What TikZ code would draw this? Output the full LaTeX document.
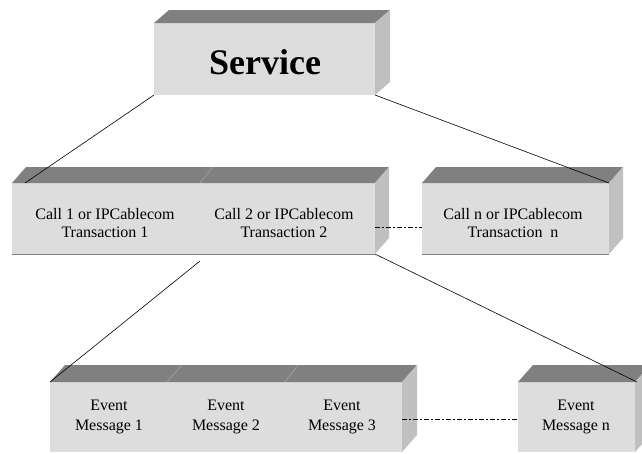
\documentclass[tikz,border=0pt]{standalone}
\usepackage{fontspec}
\setmainfont{Liberation Serif}
\usetikzlibrary{calc}
\definecolor{frontc}{HTML}{DDDDDD}
\definecolor{topc}{HTML}{808080}
\definecolor{sidec}{HTML}{C0C0C0}
\definecolor{divc}{HTML}{A8A8A8}
\newcommand{\boxfaces}[3]{%
  \fill[topc] (#1.north west) -- ++(#2,-#3) -- ($(#1.north east)+(#2,-#3)$) -- (#1.north east) -- cycle;
  \fill[sidec] (#1.north east) -- ++(#2,-#3) -- ($(#1.south east)+(#2,-#3)$) -- (#1.south east) -- cycle;}
\begin{document}
\begin{tikzpicture}[x=1pt,y=-1pt,
  front/.style={fill=frontc,draw=none,inner sep=0pt,outer sep=0pt},
  label16/.style={font=\fontsize{16}{18}\selectfont,align=center,inner sep=0pt},
  label16e/.style={font=\fontsize{16}{20}\selectfont,align=center,inner sep=0pt},
  conn/.style={black,line width=0.6pt},
  dconn/.style={black,line width=0.9pt,dash pattern=on 5pt off 2pt on 2pt off 2pt},
  edge/.style={draw=gray,line width=0.6pt},
  divider/.style={divc,line width=0.5pt}]
\useasboundingbox (0,0) rectangle (642,453);
\clip (0,0) rectangle (642,453);
% boxes
\node[front,minimum width=221pt,minimum height=72pt] (svc) at (264.5,59) {};
\boxfaces{svc}{15}{13}
\node[front,minimum width=363pt,minimum height=71pt] (mid) at (193.5,218.5) {};
\boxfaces{mid}{14}{16}
\node[front,minimum width=187pt,minimum height=71pt] (calln) at (515.5,218.5) {};
\boxfaces{calln}{14}{16}
\node[front,minimum width=352pt,minimum height=70pt] (ev) at (226,417) {};
\boxfaces{ev}{15}{17}
\node[front,minimum width=117pt,minimum height=70pt] (evn) at (576.5,417) {};
\boxfaces{evn}{15}{17}
% bottom edges
\draw[edge] (mid.south west) -- (mid.south east);
\draw[edge] (calln.south west) -- (calln.south east);
% dividers on top faces
\draw[divider] (200,183) -- (213,167);
\draw[divider] (167,382) -- (182,365);
\draw[divider] (285,382) -- (298,365);
% texts
\node[font=\fontsize{36}{40}\selectfont\bfseries,inner sep=0pt] (svct) at (265,62) {Service};
\node[label16] (c1) at (105,223) {Call 1 or IPCablecom\\Transaction 1};
\node[label16] (c2) at (284,223) {Call 2 or IPCablecom\\Transaction 2};
\node[label16] (cn) at (513,223) {Call n or IPCablecom\\Transaction\ \ n};
\node[label16e] (e1) at (109,417) {Event\\Message 1};
\node[label16e] (e2) at (226,417) {Event\\Message 2};
\node[label16e] (e3) at (342,417) {Event\\Message 3};
\node[label16e] (en) at (576,417) {Event\\Message n};
% connectors
\coordinate (midtl) at ($(mid.north west)+(13,0)$);
\coordinate (midbelow) at (200,261);
\draw[conn] (svc.south west) -- (midtl);
\draw[conn] (svc.south east) -- (calln.north east);
\draw[conn] (midbelow) -- (ev.north west);
\draw[conn] (mid.south east) -- ($(evn.north east)+(2,0)$);
\draw[dconn] ([yshift=-8.5pt]mid.east) -- ([yshift=-8.5pt]calln.west);
\draw[dconn] ([yshift=-2pt]ev.east) -- ([yshift=-2pt]evn.west);
\end{tikzpicture}
\end{document}
